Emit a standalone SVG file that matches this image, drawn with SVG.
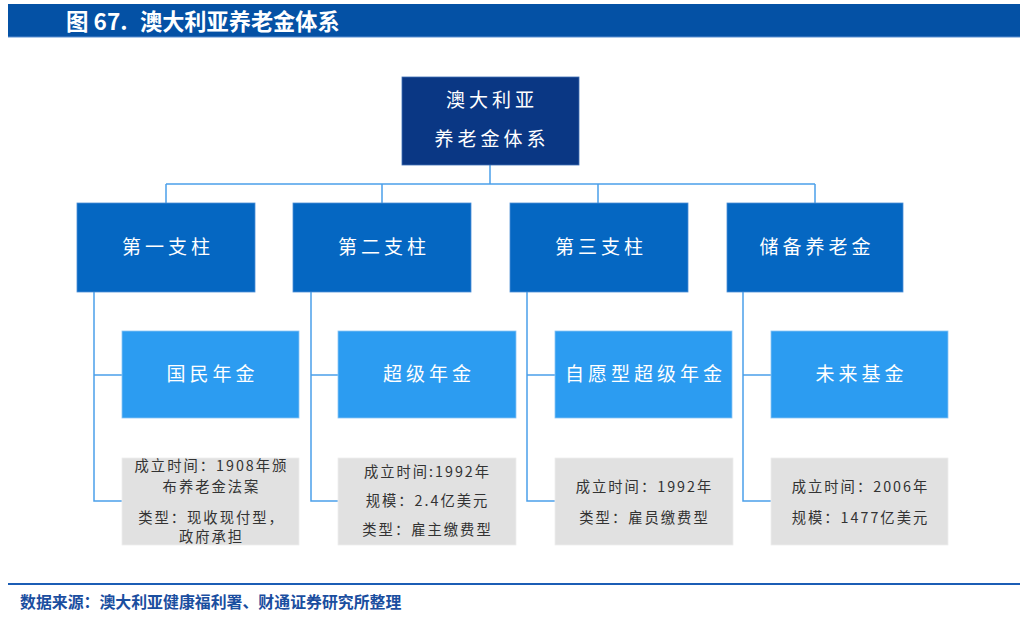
<svg xmlns="http://www.w3.org/2000/svg" width="1024" height="622" viewBox="0 0 1024 622">
<style>
.cjk{font-family:"Noto Sans CJK SC","Noto Sans",sans-serif}
.node-t{fill:#ffffff;font-size:19px;letter-spacing:4px;text-anchor:middle}
.info-t{fill:#333333;font-size:14.3px;letter-spacing:2px;text-anchor:middle}
.top{fill:#0a3784;stroke:#3f6fb5;stroke-width:0.8}
.l2{fill:#0567c2;stroke:#4d8fd6;stroke-width:0.8}
.l3{fill:#2c9cf1;stroke:#8cc6f5;stroke-width:0.8}
.info{fill:#e1e1e1;stroke:#eeeeee;stroke-width:0.8}
.conn{fill:none;stroke:#4ba0ea;stroke-width:1.5}
</style>
<rect width="1024" height="622" fill="#ffffff"/>
<g id="header">
<rect x="8" y="4" width="1012" height="33" fill="#0451a5"/>
<line x1="8" y1="37" x2="1020" y2="37" stroke="#5a8fd0" stroke-width="1"/>
<text x="66" y="30" class="cjk" font-size="22.5" font-weight="bold" fill="#ffffff">图 67.<tspan x="140" font-size="22.2">澳大利亚养老金体系</tspan></text>
</g>
<g id="connectors">
<path class="conn" d="M490 165 V184 M166 184 H815 M166 184 V203 M382 184 V203 M598 184 V203 M815 184 V203"/>
<path class="conn" d="M94 292 V501 H122 M94 375 H122"/>
<path class="conn" d="M311 292 V501 H338 M311 375 H338"/>
<path class="conn" d="M527 292 V501 H555 M527 375 H555"/>
<path class="conn" d="M743 292 V501 H771 M743 375 H771"/>
</g>
<g id="root">
<rect class="top" x="402" y="77" width="177" height="88"/>
<text class="cjk node-t" x="492" y="107">澳大利亚</text>
<text class="cjk node-t" x="492" y="146">养老金体系</text>
</g>
<g id="pillar1">
<rect class="l2" x="77" y="203" width="178" height="89"/>
<text class="cjk node-t" x="168" y="254">第一支柱</text>
</g>
<g id="pillar2">
<rect class="l2" x="293" y="203" width="178" height="89"/>
<text class="cjk node-t" x="384" y="254">第二支柱</text>
</g>
<g id="pillar3">
<rect class="l2" x="510" y="203" width="178" height="89"/>
<text class="cjk node-t" x="601" y="254">第三支柱</text>
</g>
<g id="reserve">
<rect class="l2" x="727" y="203" width="176" height="89"/>
<text class="cjk node-t" x="817" y="254">储备养老金</text>
</g>
<g id="national-pension">
<rect class="l3" x="122" y="331" width="177" height="87"/>
<text class="cjk node-t" x="212.5" y="381">国民年金</text>
</g>
<g id="super">
<rect class="l3" x="338" y="331" width="178" height="87"/>
<text class="cjk node-t" x="429" y="381">超级年金</text>
</g>
<g id="voluntary-super">
<rect class="l3" x="555" y="331" width="177" height="87"/>
<text class="cjk node-t" x="645.5" y="381">自愿型超级年金</text>
</g>
<g id="future-fund">
<rect class="l3" x="771" y="331" width="177" height="87"/>
<text class="cjk node-t" x="861.5" y="381">未来基金</text>
</g>
<g id="info1">
<rect class="info" x="122" y="458" width="177" height="87"/>
<text class="cjk info-t" x="211.5" y="471">成立时间：1908年颁</text>
<text class="cjk info-t" x="211.5" y="492">布养老金法案</text>
<text class="cjk info-t" x="211.5" y="523">类型：现收现付型，</text>
<text class="cjk info-t" x="211.5" y="542">政府承担</text>
</g>
<g id="info2">
<rect class="info" x="338" y="458" width="178" height="87"/>
<text class="cjk info-t" x="427.5" y="477">成立时间:1992年</text>
<text class="cjk info-t" x="427.5" y="506">规模：2.4亿美元</text>
<text class="cjk info-t" x="427.5" y="535">类型：雇主缴费型</text>
</g>
<g id="info3">
<rect class="info" x="555" y="458" width="178" height="87"/>
<text class="cjk info-t" x="644.5" y="492">成立时间：1992年</text>
<text class="cjk info-t" x="644.5" y="523">类型：雇员缴费型</text>
</g>
<g id="info4">
<rect class="info" x="771" y="458" width="177" height="87"/>
<text class="cjk info-t" x="860.5" y="492">成立时间：2006年</text>
<text class="cjk info-t" x="860.5" y="523">规模：1477亿美元</text>
</g>
<g id="footer">
<line x1="8" y1="584" x2="1020" y2="584" stroke="#1b5db5" stroke-width="2"/>
<text x="20" y="608" class="cjk" font-size="15.9" font-weight="bold" fill="#1a4e9f">数据来源：澳大利亚健康福利署、财通证券研究所整理</text>
</g>
</svg>
